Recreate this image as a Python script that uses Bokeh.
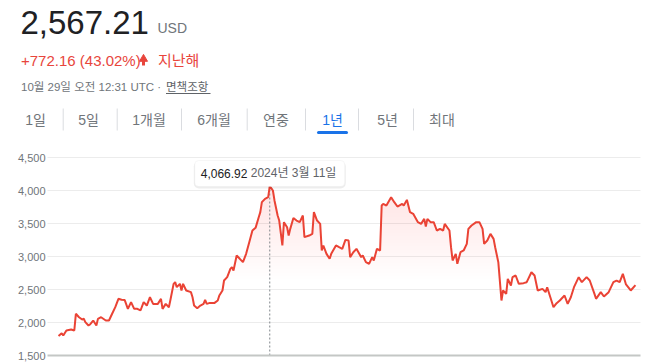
import numpy as np
import pandas as pd
from bokeh.plotting import figure
from bokeh.models import Range1d, BoxAnnotation, Label
from bokeh.core.properties import value
from bokeh.embed import file_html
from bokeh.resources import INLINE

# ---------------- data ----------------
start_date = "2023-10-29"
day_offsets = [0, 2, 3, 5, 8, 10, 11, 13, 15, 16, 17, 19, 20, 22, 24, 25, 27, 30, 32, 34,
               36, 38, 40, 42, 44, 46, 48, 50, 52, 54, 56, 58, 60, 63, 65, 66, 68, 70, 71, 73,
               74, 75, 77, 78, 79, 81, 84, 85, 86, 88, 90, 92, 93, 94, 96, 99, 101, 102, 104, 105,
               107, 109, 110, 111, 113, 115, 117, 119, 121, 123, 125, 127, 128, 129, 131, 133, 134, 136, 137, 139,
               140, 142, 143, 145, 146, 147, 149, 151, 153, 155, 156, 159, 161, 162, 164, 166, 167, 168, 170, 172,
               173, 176, 178, 180, 182, 184, 185, 187, 189, 192, 193, 195, 197, 199, 200, 202, 204, 205, 206, 208,
               211, 213, 215, 218, 219, 221, 223, 225, 228, 230, 232, 233, 234, 236, 238, 240, 242, 244, 245, 248,
               249, 250, 252, 253, 255, 257, 259, 260, 262, 265, 267, 269, 270, 272, 274, 276, 277, 279, 281, 282,
               284, 285, 287, 288, 290, 292, 295, 297, 298, 300, 302, 304, 307, 309, 310, 312, 314, 316, 318, 321,
               323, 325, 327, 330, 332, 335, 337, 340, 341, 344, 346, 349, 352, 354, 356, 358, 360, 363, 366]
prices = [1795.05, 1838, 1803, 1879, 1894, 1879, 2132, 2080, 2045, 2060, 2005, 1955, 1970, 2030, 1955, 2055, 2080, 2030, 2030, 2132,
          2232, 2359, 2345, 2340, 2207, 2308, 2207, 2207, 2182, 2308, 2257, 2383, 2282, 2282, 2359, 2207, 2282, 2232, 2345, 2586,
          2611, 2535, 2586, 2485, 2586, 2485, 2460, 2383, 2257, 2217, 2257, 2282, 2345, 2282, 2297, 2297, 2333, 2409, 2485, 2636,
          2687, 2813, 2838, 2788, 3015, 2965, 2914, 3040, 3217, 3394, 3434, 3595, 3672, 3823, 3874, 3899, 4066.92, 4000, 3849, 3621,
          3545, 3167, 3520, 3444, 3318, 3419, 3583, 3545, 3520, 3621, 3293, 3318, 3343, 3672, 3545, 3494, 3091, 3167, 3040, 2965,
          3040, 3167, 3141, 3116, 3252, 3242, 2990, 3065, 3116, 2990, 3015, 2914, 2889, 2990, 2940, 3116, 3091, 3772, 3798, 3772,
          3899, 3823, 3757, 3798, 3772, 3858, 3672, 3646, 3520, 3494, 3570, 3454, 3570, 3520, 3520, 3394, 3419, 3394, 3494, 3394,
          3141, 2940, 3040, 2889, 3065, 3091, 3192, 3419, 3469, 3520, 3520, 3419, 3192, 3242, 3343, 3267, 3141, 2914, 2333, 2485,
          2434, 2662, 2560, 2687, 2712, 2586, 2596, 2611, 2662, 2762, 2712, 2485, 2510, 2460, 2535, 2383, 2232, 2293, 2333, 2409,
          2282, 2383, 2535, 2687, 2611, 2687, 2636, 2434, 2359, 2460, 2394, 2460, 2611, 2636, 2611, 2737, 2576, 2485, 2567.21]
y_ticks = [1500, 2000, 2500, 3000, 3500, 4000, 4500]
tab_labels = ["1일", "5일", "1개월", "6개월", "연중", "1년", "5년", "최대"]
selected_tab = "1년"
currency = "USD"
period_text = "지난해"
timestamp_text = "10월 29일 오전 12:31 UTC ·"
disclaimer_text = "면책조항"

# ---------------- derived ----------------
days = np.array(day_offsets, dtype=float)
vals = np.array(prices, dtype=float)
last, first = vals[-1], vals[0]
chg = last - first
pct = chg / first * 100
ipk = int(np.argmax(vals))
peak_day = days[ipk]
peak_val = vals[ipk]
peak_date = pd.to_datetime(start_date) + pd.Timedelta(days=int(peak_day))

LAT = "'Liberation Sans', 'Noto Sans CJK KR', sans-serif"
GRAY = "#70757a"
RED = "#e8453c"
LINE = "#ea4335"

# ---------------- layout geometry (page pixels) ----------------
W, H = 654, 364
FL, FR, FT, FB = 47, 640, 157, 355          # chart area
Y0, Y1 = y_ticks[0], y_ticks[-1]
D0, D1 = days[0] - 7, days[-1] + 3.2        # day range across the chart area
ppd = (FR - FL) / (D1 - D0)
ppv = (FB - FT) / (Y1 - Y0)
x_start = D0 - FL / ppd
x_end = D1 + (W - FR) / ppd
y_bot = Y0 - (H - FB) / ppv
y_top = Y0 + FB / ppv


def px(xpix):
    return x_start + xpix / ppd


def py(ypix):
    return Y0 + (FB - ypix) / ppv


p = figure(width=W, height=H, x_range=Range1d(x_start, x_end), y_range=Range1d(y_bot, y_top),
           min_border=0, x_axis_location=None, y_axis_location=None, title=None,
           toolbar_location=None, output_backend="svg", outline_line_color=None)
p.xgrid.visible = False
p.ygrid.visible = False


def label(xp, yp, text, size, color, align="left", font=LAT, level="annotation"):
    p.add_layout(Label(x=px(xp), y=py(yp), text=text, text_font=font, text_font_size=size,
                       text_color=color, text_align=align, text_baseline="middle",
                       level=level))


# ---------------- header ----------------
label(20, 21.5, f"{last:,.2f}", "33px", "#202124")
label(157, 27, currency, "14px", GRAY)
label(20.5, 59.8, f"+{chg:,.2f} ({pct:.2f}%)", "15px", RED)
p.scatter(x=[px(143)], y=[py(58.5)], marker="triangle", size=8, fill_color=RED, line_color=RED)
p.segment(x0=[px(143)], y0=[py(59)], x1=[px(143)], y1=[py(65)], line_color=RED, line_width=3)
label(157.5, 59.5, period_text, "15px", RED)
label(20.5, 86.5, timestamp_text, "11.5px", GRAY)
label(165.5, 86.5, disclaimer_text, "11.5px", "#5f6368")
p.segment(x0=[px(165.5)], y0=[py(93)], x1=[px(210)], y1=[py(93)], line_color="#5f6368", line_width=1)

tab_centers = [35, 88, 148.5, 213.5, 275.5, 332, 387, 441.5]
sep_x = [62.7, 116.7, 181, 246.7, 305, 358, 413]
for lab, cx in zip(tab_labels, tab_centers):
    col = "#1a73e8" if lab == selected_tab else GRAY
    label(cx, 119.5, lab, "14px", col, align="center")
    if lab == selected_tab:
        p.segment(x0=[px(cx - 14)], y0=[py(132)], x1=[px(cx + 14)], y1=[py(132)],
                  line_color="#1a73e8", line_width=3, line_cap="round")
p.segment(x0=[px(s) for s in sep_x], y0=[py(108)] * len(sep_x),
          x1=[px(s) for s in sep_x], y1=[py(130)] * len(sep_x),
          line_color="#dadce0", line_width=1)

# ---------------- chart ----------------
grid_ticks = [t for t in y_ticks if t != Y0]
p.segment(x0=[px(FL)] * len(grid_ticks), y0=grid_ticks, x1=[px(FR)] * len(grid_ticks),
          y1=grid_ticks, line_color="#ececec", line_width=1)
p.text(x=[px(FL - 2)] * len(y_ticks), y=y_ticks, text=[f"{t:,}" for t in y_ticks],
       text_font=value("Liberation Sans"), text_font_size="11px", text_color=GRAY,
       text_align="right", text_baseline="middle")

# gradient-like fill under the line (stacked translucent layers)
for L in np.arange(2650, 4100, 50):
    p.varea(x=days, y1=np.full(len(vals), L), y2=np.maximum(vals, L),
            fill_color=LINE, fill_alpha=0.0055)

box_bottom = py(186)
box_top = py(160)
p.segment(x0=[peak_day], y0=[Y0], x1=[peak_day], y1=[box_bottom],
          line_color="#80868b", line_width=1, line_dash="2 2")

p.line(days, vals, line_color=LINE, line_width=2)

p.segment(x0=[px(FL)], y0=[Y0], x1=[px(FR)], y1=[Y0], line_color="#c4c7c5", line_width=2)

half = 75 / ppd
p.add_layout(BoxAnnotation(left=peak_day - half - 0.6, right=peak_day + half + 0.6,
                           top=py(161), bottom=py(188),
                           fill_color="#000000", fill_alpha=0.07, line_color=None,
                           border_radius=5, level="overlay"))
p.add_layout(BoxAnnotation(left=peak_day - half, right=peak_day + half,
                           top=box_top, bottom=box_bottom,
                           fill_color="#ffffff", fill_alpha=1.0, line_color="#e6e6e6",
                           line_width=1, border_radius=4, level="overlay"))
label(FL + (peak_day - 69 / ppd - D0) * ppd, 172.5, f"{peak_val:,.2f}", "12px", "#202124",
      level="overlay")
label(FL + (peak_day - 19 / ppd - D0) * ppd, 172.5,
      f"{peak_date.year}년 {peak_date.month}월 {peak_date.day}일", "12px", "#5f6368",
      level="overlay")

open("out.html", "w").write(file_html(p, INLINE))
